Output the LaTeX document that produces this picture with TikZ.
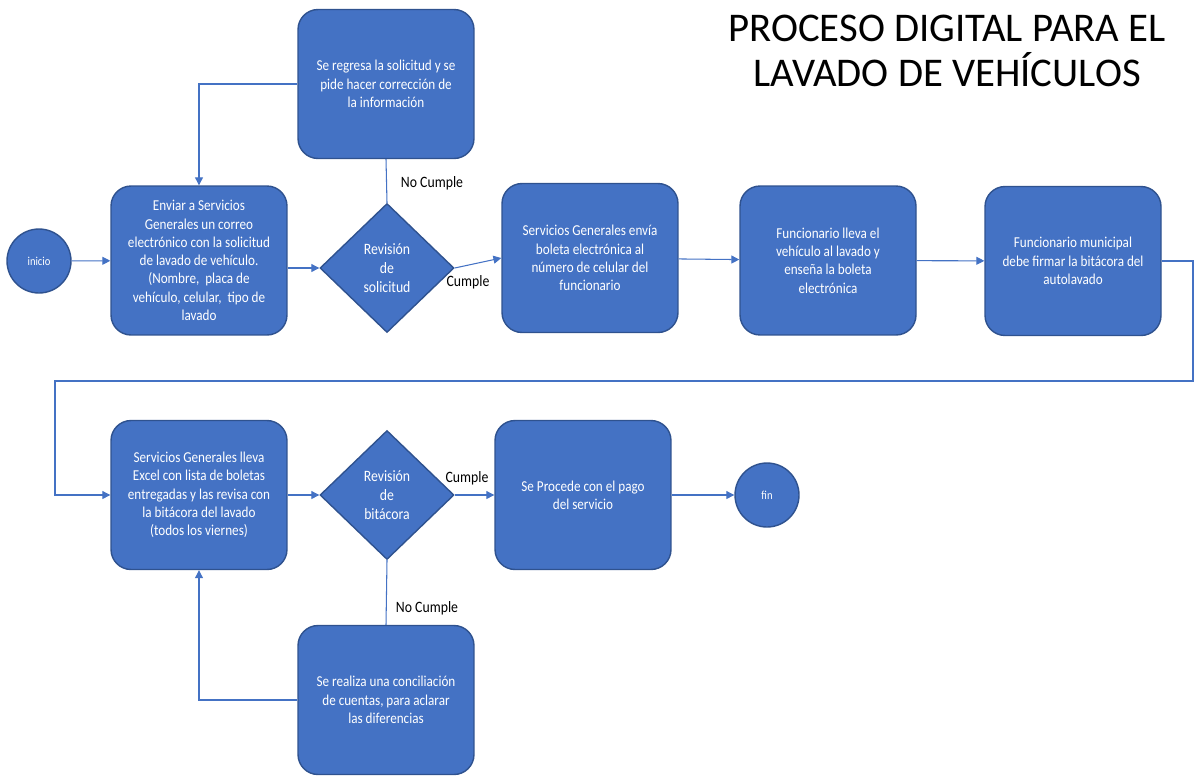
\documentclass[tikz,border=0pt]{standalone}
\usepackage{fontspec}
\setmainfont{Carlito}
\newfontfamily\boxfont[FakeStretch=0.87]{Carlito}
\usetikzlibrary{shapes.geometric,arrows.meta}
\definecolor{flowblue}{HTML}{4472C4}
\definecolor{flowedge}{HTML}{2F528F}
\tikzset{
  procbox/.style={draw=flowedge, line width=0.8pt, fill=flowblue, rounded corners=0.4cm,
    minimum width=3.52cm, minimum height=2.98cm, text=white, align=center,
    font={\boxfont\fontsize{8.6}{10.4}\selectfont}},
  decbox/.style={diamond, draw=flowedge, line width=0.8pt, fill=flowblue, inner sep=0pt,
    minimum width=2.68cm, minimum height=2.58cm, text=white, align=center,
    font={\boxfont\fontsize{9}{10.8}\selectfont}},
  endpt/.style={circle, draw=flowedge, line width=0.8pt, fill=flowblue, minimum size=1.28cm,
    inner sep=0pt, text=white, font={\boxfont\fontsize{6.9}{8}\selectfont}},
  conn/.style={draw=flowblue, line width=0.6pt, -{Triangle[length=4.5pt,width=4.5pt]}},
  link/.style={draw=flowblue, line width=0.6pt},
  lbl/.style={text=black, font={\boxfont\fontsize{9}{10.8}\selectfont}}
}
\newcommand{\stepnode}[3]{
  \node [procbox] (#1) at (#2) {#3};
}
\newcommand{\checknode}[3]{
  \node [decbox] (#1) at (#2) {#3};
}
\begin{document}
\begin{tikzpicture}[x=0.02cm, y=-0.02cm]
  \useasboundingbox (0,0) rectangle (1195,775);
  % title
  \node [align=center, font={\fontsize{23.2}{25.5}\selectfont}] (title) at (947,51)
    {PROCESO DIGITAL PARA EL\\LAVADO DE VEHÍCULOS};
  % first row
  \node [endpt] (inicio) at (39,261) {inicio};
  \stepnode{enviar}{199,260.5}{Enviar a Servicios\\Generales un correo\\electrónico con la solicitud\\de lavado de vehículo.\\(Nombre,\ \ placa de\\vehículo, celular,\ \ tipo de\\lavado}
  \checknode{revsol}{387,268}{Revisión\\de\\solicitud}
  \stepnode{regresa}{386,84}{Se regresa la solicitud y se\\pide hacer corrección de\\la información}
  \stepnode{boleta}{590,258}{Servicios Generales envía\\boleta electrónica al\\número de celular del\\funcionario}
  \stepnode{lleva}{828,260.5}{Funcionario lleva el\\vehículo al lavado y\\enseña la boleta\\electrónica}
  \stepnode{firma}{1073,261}{Funcionario municipal\\debe firmar la bitácora del\\autolavado}
  % second row
  \stepnode{excel}{199,495}{Servicios Generales lleva\\Excel con lista de boletas\\entregadas y las revisa con\\la bitácora del lavado\\(todos los viernes)}
  \checknode{revbit}{387,495}{Revisión\\de\\bitácora}
  \stepnode{pago}{583,495}{Se Procede con el pago\\del servicio}
  \stepnode{concil}{386,700}{Se realiza una conciliación\\de cuentas, para aclarar\\las diferencias}
  \node [endpt] (fin) at (767,495) {fin};
  % connectors
  \coordinate (turnR) at (1193,381);
  \coordinate (turnL) at (55,381);
  \draw [conn] (inicio) -- (enviar);
  \draw [conn] (enviar.east |- revsol.west) -- (revsol.west);
  \draw [conn] (revsol.east) -- (boleta.west);
  \draw [link] (revsol.north) -- (regresa.south);
  \draw [conn] (regresa.west) -| (enviar.north);
  \draw [conn] (boleta) -- (lleva);
  \draw [conn] (lleva) -- (firma);
  \draw [conn] (firma.east) -| (turnR) -- (turnL) |- (excel.west);
  \draw [conn] (excel) -- (revbit);
  \draw [conn] (revbit) -- (pago);
  \draw [conn] (pago) -- (fin);
  \draw [link] (revbit.south) -- (concil.north);
  \draw [conn] (concil.west) -| (excel.south);
  % labels
  \node [lbl] (nc1) at (432,183) {No Cumple};
  \node [lbl] (c1) at (468,282) {Cumple};
  \node [lbl] (c2) at (467,478) {Cumple};
  \node [lbl] (nc2) at (427,608) {No Cumple};
\end{tikzpicture}
\end{document}
